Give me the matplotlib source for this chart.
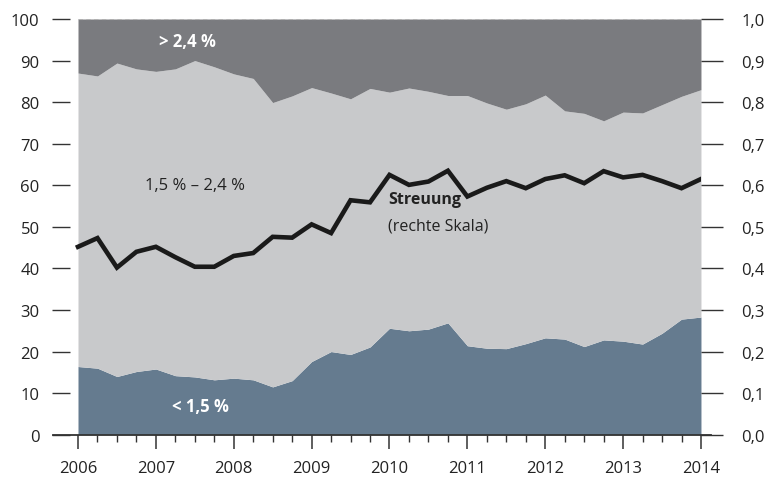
import matplotlib
matplotlib.use("Agg")
import numpy as np
from matplotlib import pyplot as plt
from matplotlib.ticker import FuncFormatter, MultipleLocator

plt.rcParams['font.family'] = ['Open Sans', 'DejaVu Sans']

# quarterly observations, 2006 Q1 .. 2014 Q1
quarters = np.arange(33) / 4 + 2006
# share below 1,5 %
share_low = [16.4, 16.0, 14.0, 15.2, 15.8, 14.2, 13.9, 13.2, 13.6, 13.2, 11.5,
             13.0, 17.6, 20.0, 19.3, 21.1, 25.6, 25.0, 25.4, 26.9, 21.4, 20.8,
             20.7, 21.9, 23.3, 23.0, 21.2, 22.8, 22.5, 21.8, 24.4, 27.8, 28.3]
# cumulative share up to 2,4 % (upper edge of the middle band)
share_upto_24 = [87.0, 86.3, 89.4, 88.0, 87.4, 88.0, 90.0, 88.5, 86.8, 85.7, 79.9,
                 81.5, 83.5, 82.2, 80.8, 83.3, 82.4, 83.4, 82.6, 81.6, 81.6, 79.8,
                 78.3, 79.6, 81.7, 77.9, 77.3, 75.5, 77.6, 77.4, 79.4, 81.4, 83.0]
# dispersion (right scale)
streuung = [0.452, 0.473, 0.402, 0.440, 0.452, 0.427, 0.404, 0.404, 0.430, 0.437,
            0.476, 0.474, 0.506, 0.485, 0.564, 0.559, 0.625, 0.601, 0.609, 0.635,
            0.573, 0.594, 0.610, 0.593, 0.615, 0.624, 0.605, 0.634, 0.619, 0.625,
            0.610, 0.593, 0.615]
year_ticks = list(range(2006, 2015))

c_low = '#657b8f'
c_mid = '#c8c9cb'
c_high = '#7a7b7f'
c_axis = '#333333'

fig = plt.figure(figsize=(7.64, 4.81), dpi=100)
ax = fig.add_axes([0.0919, 0.0942, 0.8256, 0.8642])

ax.fill_between(quarters, 0, share_low, color=c_low, lw=0)
ax.fill_between(quarters, share_low, share_upto_24, color=c_mid, lw=0)
ax.fill_between(quarters, share_upto_24, 100, color=c_high, lw=0)
ax.axhline(100, xmin=(2006 - 2005.9) / 8.1, xmax=1, color='#b0b0b0',
           ls=(0, (4, 3)), lw=0.8)
ax.axhline(0, xmin=-0.027, xmax=1.016, color=c_axis, lw=1.3, clip_on=False)

ax.set_xlim(2005.9, 2014)
ax.set_ylim(0, 100)
for s in ax.spines.values():
    s.set_visible(False)

ax.set_xticks(year_ticks)
ax.set_xticklabels([str(y) for y in year_ticks])
ax.xaxis.set_minor_locator(MultipleLocator(0.25))
ax.tick_params(axis='x', which='major', length=10, width=1.1, color=c_axis,
               pad=8, labelsize=12, labelcolor='#222222')
ax.tick_params(axis='x', which='minor', length=5, width=1.0, color=c_axis)
ax.yaxis.set_major_locator(MultipleLocator(10))
ax.tick_params(axis='y', length=13, width=1.0, color=c_axis, pad=9,
               labelsize=12, labelcolor='#222222')

ax2 = ax.twinx()
ax2.plot(quarters, streuung, color='#1a1a1a', lw=3.3, solid_joinstyle='miter')
ax2.set_ylim(0, 1)
ax2.set_xlim(2005.9, 2014)
for s in ax2.spines.values():
    s.set_visible(False)
ax2.yaxis.set_major_locator(MultipleLocator(0.1))
ax2.yaxis.set_major_formatter(FuncFormatter(lambda v, p: f"{v:.1f}".replace('.', ',')))
ax2.tick_params(axis='y', length=16, width=1.0, color=c_axis, pad=13,
                labelsize=12, labelcolor='#222222')

ax.text(2007.41, 94.7, '> 2,4 %', color='white', fontsize=12, fontweight='bold',
        ha='center', va='center')
ax.text(2007.50, 60.1, '1,5 % – 2,4 %', color='#222222', fontsize=12,
        ha='center', va='center')
ax.text(2007.57, 6.9, '< 1,5 %', color='white', fontsize=12, fontweight='bold',
        ha='center', va='center')
ax.text(2009.98, 56.7, 'Streuung', color='#222222', fontsize=11.5,
        fontweight='bold', ha='left', va='center')
ax.text(2009.98, 50.4, '(rechte Skala)', color='#222222', fontsize=11.5,
        ha='left', va='center')

fig.savefig('out.png', dpi=100)
